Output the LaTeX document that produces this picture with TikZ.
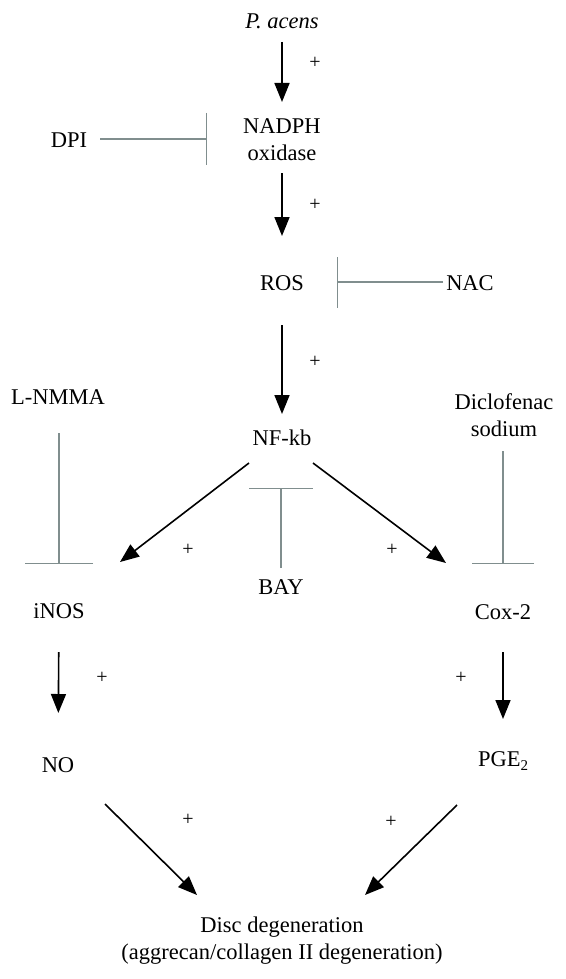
\documentclass[tikz,border=0pt]{standalone}
\usepackage{fontspec}
\setmainfont{Liberation Serif}
\usetikzlibrary{arrows.meta}
\definecolor{inhgray}{RGB}{128,142,142}
\tikzset{
  lbl/.style={inner sep=0pt, font=\fontsize{22.5}{27}\selectfont, align=center},
  pl/.style={inner sep=0pt, font=\fontsize{20}{22}\selectfont},
  arr/.style={line width=1.6pt, -{Triangle[length=19pt,width=15pt]}},
  inh/.style={line width=1.3pt, draw=inhgray},
}
\begin{document}
\begin{tikzpicture}[x=1pt,y=-1pt]
\useasboundingbox (0,0) rectangle (565,979);
% nodes
\node[lbl] (pacens) at (282,21) {\itshape P. acens};
\node[lbl] (nadph) at (282,140) {NADPH\\oxidase};
\node[lbl] (dpi) at (69,140) {DPI};
\node[lbl] (ros) at (282,283) {ROS};
\node[lbl] (nac) at (470,283) {NAC};
\node[lbl] (lnmma) at (58,397) {L-NMMA};
\node[lbl] (diclo) at (504,415) {Diclofenac\\sodium};
\node[lbl] (nfkb) at (282,438) {NF-kb};
\node[lbl] (bay) at (281,587) {BAY};
\node[lbl] (inos) at (59,611) {iNOS};
\node[lbl] (cox) at (503,612) {Cox-2};
\node[lbl] (no) at (58,765) {NO};
\node[lbl, anchor=base] (pge) at (503,766) {PGE\raisebox{-0.22em}{\fontsize{15}{15}\selectfont 2}};
\node[lbl] (disc) at (282,941) {Disc degeneration\\(aggrecan/collagen II degeneration)};
% plus signs
\node[pl] (p1) at (315,63) {+};
\node[pl] (p2) at (315,205) {+};
\node[pl] (p3) at (315,362) {+};
\node[pl] (p4) at (188,550) {+};
\node[pl] (p5) at (392,550) {+};
\node[pl] (p6) at (102,678) {+};
\node[pl] (p7) at (461,678) {+};
\node[pl] (p8) at (188,820) {+};
\node[pl] (p9) at (391,822) {+};
% arrow end coordinates
\coordinate (nfL) at (249,463);
\coordinate (nfR) at (313,463);
\coordinate (inosT) at (120,562);
\coordinate (coxT) at (446,563);
\coordinate (noS) at (105,804);
\coordinate (pgeS) at (457,805);
\coordinate (discL) at (197,895);
\coordinate (discR) at (365,895);
% activation arrows
\draw[arr, shorten <=21pt, shorten >=38pt] (pacens.center) -- (nadph.center);
\draw[arr, shorten <=33pt, shorten >=47pt] (nadph.center) -- (ros.center);
\draw[arr, shorten <=42pt, shorten >=24pt] (ros.center) -- (nfkb.center);
\draw[arr] (nfL) -- (inosT);
\draw[arr] (nfR) -- (coxT);
\draw[arr, shorten <=41pt, shorten >=52pt] (inos.center) -- (no.center);
\draw[arr, shorten <=40pt, shorten >=47pt] (cox.center) -- (pge.base);
\draw[arr] (noS) -- (discL);
\draw[arr] (pgeS) -- (discR);
% inhibitor coordinates
\coordinate (dpiS) at (100,139);
\coordinate (dpiE) at (207,139);
\coordinate (nacS) at (443,282);
\coordinate (nacE) at (337,282);
\coordinate (lnS) at (59,433);
\coordinate (lnE) at (59,564);
\coordinate (dcS) at (503,451);
\coordinate (dcE) at (503,564);
\coordinate (bayS) at (281,568);
\coordinate (bayE) at (281,488);
% inhibitors
\draw[inh, -{Bar[width=52pt]}] (dpiS) -- (dpiE);
\draw[inh, -{Bar[width=51pt]}] (nacS) -- (nacE);
\draw[inh, -{Bar[width=68pt]}] (lnS) -- (lnE);
\draw[inh, -{Bar[width=62pt]}] (dcS) -- (dcE);
\draw[inh, -{Bar[width=64pt]}] (bayS) -- (bayE);
\end{tikzpicture}
\end{document}
